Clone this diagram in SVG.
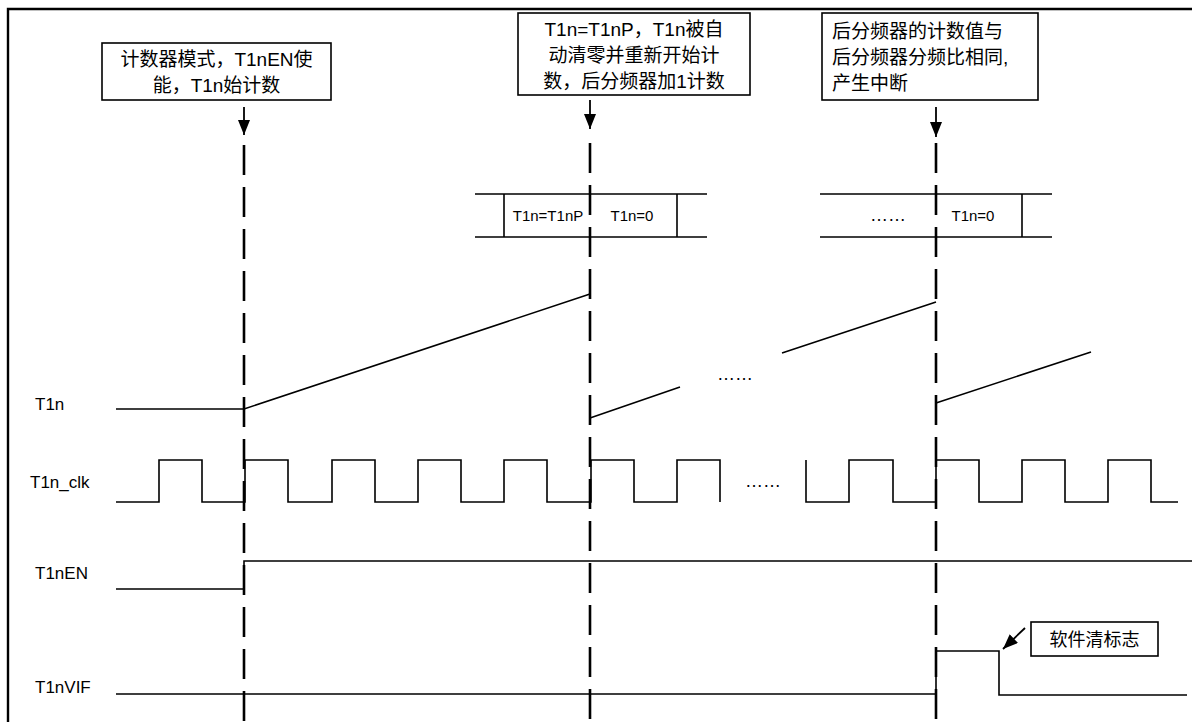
<svg xmlns="http://www.w3.org/2000/svg" width="1192" height="722" viewBox="0 0 1192 722">
<style>
.t{font-family:"Liberation Sans","Noto Sans CJK SC",sans-serif;fill:#000}
.box{fill:#fff;stroke:#000;stroke-width:1.6}
.w{fill:none;stroke:#000;stroke-width:1.6}
.dash{fill:none;stroke:#000;stroke-width:2.6;stroke-dasharray:30 12}
.arr{fill:none;stroke:#000;stroke-width:1.8}
</style>
<defs>
<marker id="ah" viewBox="0 0 15 12" refX="15" refY="6" markerWidth="15" markerHeight="12" markerUnits="userSpaceOnUse" orient="auto">
<path d="M0,0 L15,6 L0,12 Z" fill="#000"/>
</marker>
</defs>
<rect width="1192" height="722" fill="#fff"/>
<path d="M8,722 V9 H1192" fill="none" stroke="#000" stroke-width="2.4"/>

<g id="note1">
<rect class="box" x="102" y="43" width="229" height="57"/>
<text class="t" font-size="19" text-anchor="middle" x="216.5" y="66">计数器模式，T1nEN使</text>
<text class="t" font-size="19" text-anchor="middle" x="216.5" y="92">能，T1n始计数</text>
</g>
<g id="note2">
<rect class="box" x="518" y="13" width="232" height="82"/>
<text class="t" font-size="19" text-anchor="middle" x="634" y="36">T1n=T1nP，T1n被自</text>
<text class="t" font-size="19" text-anchor="middle" x="634" y="62">动清零并重新开始计</text>
<text class="t" font-size="19" text-anchor="middle" x="634" y="88">数，后分频器加1计数</text>
</g>
<g id="note3">
<rect class="box" x="822" y="13" width="216" height="87"/>
<text class="t" font-size="19" x="832" y="38">后分频器的计数值与</text>
<text class="t" font-size="19" x="832" y="64">后分频器分频比相同,</text>
<text class="t" font-size="19" x="832" y="90">产生中断</text>
</g>

<g id="reg1">
<path class="w" d="M475,194 H707 M475,237 H707 M504,194 V237 M677,194 V237"/>
<text class="t" font-size="15" text-anchor="middle" x="548" y="221">T1n=T1nP</text>
<text class="t" font-size="15" text-anchor="middle" x="632" y="221">T1n=0</text>
</g>
<g id="reg2">
<path class="w" d="M820,194 H1052 M820,237 H1052 M1022,194 V237"/>
<text class="t" font-size="18" text-anchor="middle" x="888" y="221">……</text>
<text class="t" font-size="15" text-anchor="middle" x="973" y="221">T1n=0</text>
</g>

<g id="sig-T1n">
<text class="t" font-size="17" x="35" y="410">T1n</text>
<path class="w" d="M116,409 H244 L590,294 M590,418 L680,387 M782,353 L936,302 M936,403 L1091,352"/>
<text class="t" font-size="18" text-anchor="middle" x="735" y="380">……</text>
</g>
<g id="sig-T1n_clk">
<text class="t" font-size="17" x="30" y="488">T1n_clk</text>
<path class="w" d="M116,502 H159 V460 H202 V502 H245 V460 H288 V502 H332 V460 H375 V502 H418 V460 H461 V502 H504 V460 H547 V502 H591 V460 H634 V502 H677 V460 H720 V502"/>
<path class="w" d="M806,460 V502 H849 V460 H893 V502 H936 V460 H979 V502 H1022 V460 H1065 V502 H1108 V460 H1151 V502 H1178"/>
<text class="t" font-size="18" text-anchor="middle" x="763" y="487">……</text>
</g>
<g id="sig-T1nEN">
<text class="t" font-size="17" x="35" y="579">T1nEN</text>
<path class="w" d="M116,589 H244 V561 H1192"/>
</g>
<g id="sig-T1nVIF">
<text class="t" font-size="17" x="35" y="693">T1nVIF</text>
<path class="w" d="M116,694 H936 V651 H999 V695 H1187"/>
</g>
<g id="note4">
<rect class="box" x="1031" y="622" width="127" height="34"/>
<text class="t" font-size="18" text-anchor="middle" x="1094.5" y="646">软件清标志</text>
</g>

<g id="connectors">
<line class="arr" x1="244" y1="107" x2="244" y2="135" marker-end="url(#ah)"/>
<line class="arr" x1="590" y1="100" x2="590" y2="129" marker-end="url(#ah)"/>
<line class="arr" x1="936" y1="107" x2="936" y2="137" marker-end="url(#ah)"/>
<line class="dash" x1="244" y1="145" x2="244" y2="722"/>
<line class="dash" x1="590" y1="143" x2="590" y2="722"/>
<line class="dash" x1="936" y1="143" x2="936" y2="722"/>
<line class="arr" x1="1025" y1="628" x2="1003" y2="649" marker-end="url(#ah)"/>
</g>
</svg>
